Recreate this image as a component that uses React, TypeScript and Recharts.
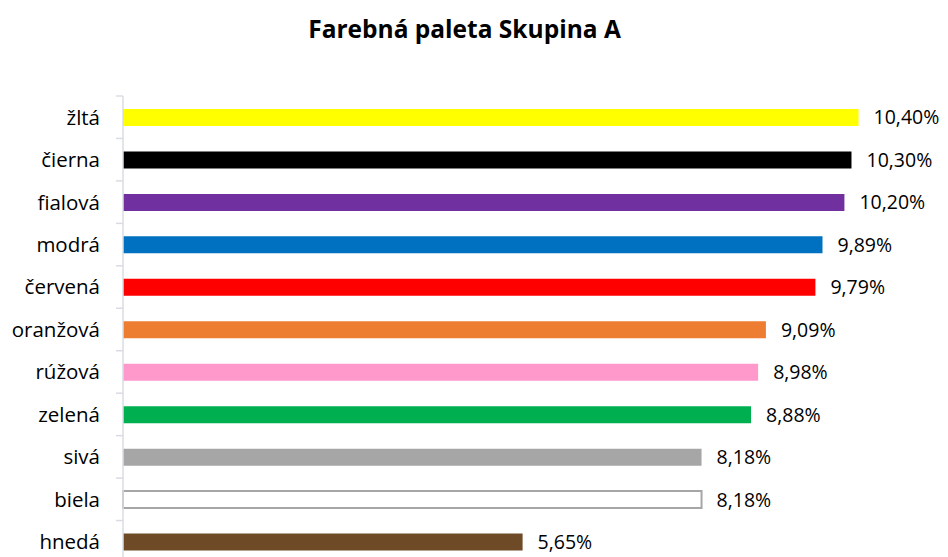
import { BarChart, Bar, XAxis, YAxis, Cell, LabelList } from 'recharts';

// Chart data
const categories = ['žltá', 'čierna', 'fialová', 'modrá', 'červená', 'oranžová', 'rúžová', 'zelená', 'sivá', 'biela', 'hnedá'];
const shares = [10.4, 10.3, 10.2, 9.89, 9.79, 9.09, 8.98, 8.88, 8.18, 8.18, 5.65];

// Bar fill per category (same order as categories)
const barColors = ['#FFFF00', '#000000', '#7030A0', '#0070C0', '#FF0000', '#ED7D31', '#FF99CC', '#00B050', '#A6A6A6', '#FFFFFF', '#6E4B26'];

const FONT = '"Open Sans", "Liberation Sans", sans-serif';
const AXIS_COLOR = '#D9DCE3';

const chartData = categories.map((name, i) => ({ name, value: shares[i] }));

function formatPercent(v: any): string {
  return `${Number(v).toFixed(2).replace('.', ',')}%`;
}

/**
 * Category label plus a tick mark on the band boundary (Excel style)
 */
function CategoryTick(props: any) {
  const { x, y, payload } = props;
  const half = payload?.offset ?? 0;
  return (
    <g>
      <line x1={x + 16} x2={x + 23} y1={y - half} y2={y - half} stroke={AXIS_COLOR} strokeWidth={1.5} />
      <text x={x} y={y} dy="0.36em" textAnchor="end" fill="#000" fontSize={20.5} fontFamily={FONT}>
        {payload.value}
      </text>
    </g>
  );
}

export default function App() {
  // outer box is cut at the window bottom so no scrollbar appears
  return (
    <div style={{ position: 'relative', width: 940, height: 549, overflow: 'hidden', fontFamily: FONT, background: '#fff' }}>
      <div
        style={{
          position: 'absolute',
          top: 9,
          left: 456.5,
          transform: 'translateX(-50%)',
          whiteSpace: 'nowrap',
          fontSize: 24.5,
          lineHeight: '24px',
          fontWeight: 700,
          color: '#000',
        }}
      >
        Farebná paleta Skupina A
      </div>
      <BarChart
        width={940}
        height={560}
        data={chartData}
        layout="vertical"
        margin={{ top: 88, right: 47, bottom: 5, left: 0 }}
        style={{ overflow: 'visible' }}
      >
        <XAxis type="number" domain={[0, 11]} hide />
        <YAxis
          type="category"
          dataKey="name"
          width={115}
          interval={0}
          axisLine={{ stroke: AXIS_COLOR, strokeWidth: 1.5 }}
          tickLine={false}
          tickSize={0}
          tickMargin={23}
          tick={<CategoryTick />}
        />
        <Bar dataKey="value" barSize={17} isAnimationActive={false}>
          {chartData.map((d, i) => (
            <Cell
              key={d.name}
              fill={barColors[i]}
              stroke={d.name === 'biela' ? '#A6A6A6' : undefined}
              strokeWidth={d.name === 'biela' ? 2 : 0}
            />
          ))}
          <LabelList
            dataKey="value"
            position="right"
            offset={15}
            formatter={formatPercent}
            fill="#000"
            fontSize={19.5}
            fontFamily={FONT}
          />
        </Bar>
      </BarChart>
    </div>
  );
}
